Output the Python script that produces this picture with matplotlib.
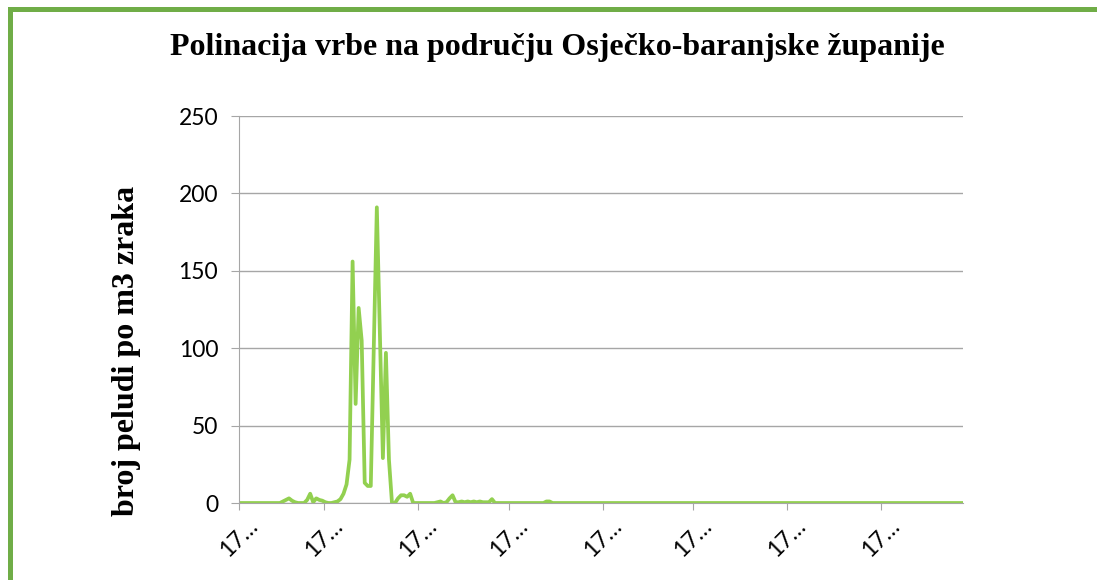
import numpy as np
import matplotlib
matplotlib.use('Agg')
import matplotlib.pyplot as plt
from matplotlib.patches import Rectangle

# daily pollen counts, one value per day (day 0 = first label "17...")
pollen = ([0]*14 +
          [1, 2, 3, 1.5, 0.5, 0, 0, 0, 2, 6, 0.5, 3, 2, 1.5, 0.5, 0, 0, 0.5, 1, 2.5,
           6, 12, 28, 156, 64, 126, 105, 13, 11, 11, 100, 191, 110, 29, 97, 28, 0,
           0, 3, 5, 5, 4, 6, 0] +
          [0]*7 +
          [0.5, 1, 0, 0.5, 3, 5, 0.5, 0.5, 1, 0.5, 1, 0.5, 1, 0.5, 1, 0.5, 0.5, 0.5, 2.5, 0] +
          [0]*16 +
          [1, 1] +
          [0]*136)
tick_days = [0, 28, 59, 89, 120, 150, 181, 212]
tick_text = ['17…']*8
yticks = [0, 50, 100, 150, 200, 250]

title = 'Polinacija vrbe na području Osječko-baranjske županije'
ylabel = 'broj peludi po m3 zraka'

days = np.arange(len(pollen))

fig = plt.figure(figsize=(10.97, 5.8), dpi=100)
ax = fig.add_axes([239/1097, 77/580, 724/1097, 387/580])

ax.plot(days, pollen, color='#92d050', linewidth=2.7, solid_joinstyle='round')
ax.set_xlim(-0.5, len(pollen) - 0.5)
ax.set_ylim(0, 250)

ax.set_yticks(yticks)
ax.yaxis.grid(True, color='#a6a6a6', linewidth=1)
ax.set_axisbelow(True)
ax.tick_params(axis='y', length=6, color='#a6a6a6', pad=9, labelsize=16.5)
for lbl in ax.get_yticklabels():
    lbl.set_family(['Lato', 'DejaVu Sans'])

ax.set_xticks([d - 0.5 for d in tick_days])
ax.set_xticklabels(tick_text, rotation=45, ha='center', va='top',
                   family=['Lato', 'DejaVu Sans'], fontsize=16.5)
ax.tick_params(axis='x', length=5, color='#a6a6a6', pad=4)

for s in ['top', 'right']:
    ax.spines[s].set_visible(False)
ax.spines['left'].set_color('#a6a6a6')
ax.spines['bottom'].set_color('#a6a6a6')

fig.text(557/1097, 1 - 48/580, title, ha='center', va='center',
         family='Liberation Serif', fontweight='bold', fontsize=23)
fig.text(127/1097, 1 - 351/580, ylabel, ha='center', va='center', rotation=90,
         family='Liberation Serif', fontweight='bold', fontsize=23)

# green frame (left and top edges visible)
fig.patches.append(Rectangle((9.5/1097, -0.2), 1.2, 0.2 + (1 - 9/580),
                             transform=fig.transFigure, fill=False,
                             edgecolor='#70ad47', linewidth=3.6))

fig.savefig('out.png', dpi=100)
